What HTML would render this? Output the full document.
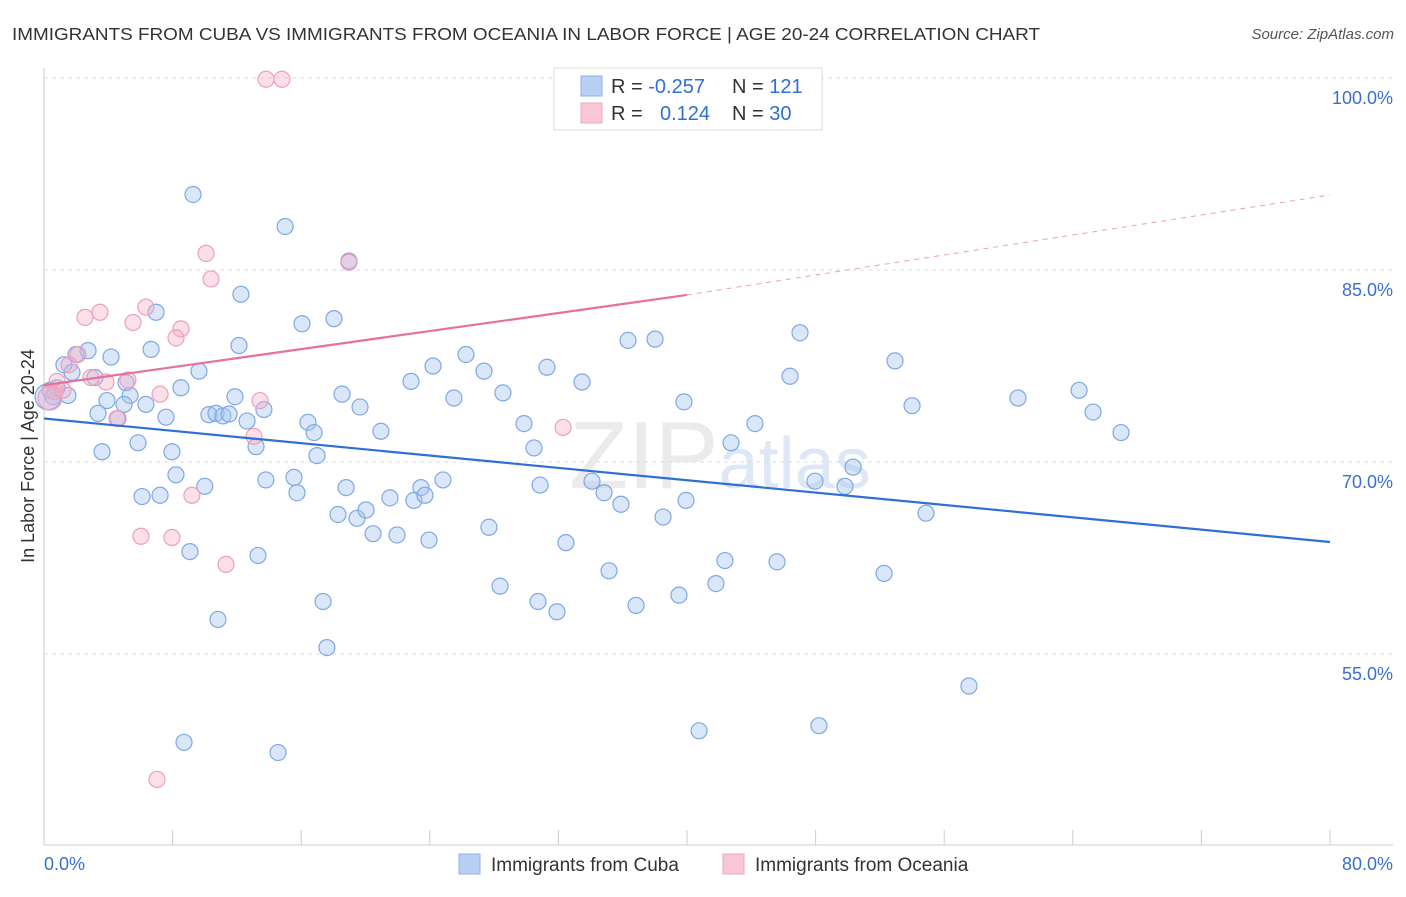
<!DOCTYPE html>
<html><head><meta charset="utf-8"><style>
body{margin:0;background:#fff;font-family:"Liberation Sans",sans-serif;}
svg text{font-family:"Liberation Sans",sans-serif;}
</style></head><body>
<svg id="chart" width="1406" height="892">
<text x="12" y="40" font-size="17.5" fill="#333" textLength="1028" lengthAdjust="spacingAndGlyphs">IMMIGRANTS FROM CUBA VS IMMIGRANTS FROM OCEANIA IN LABOR FORCE | AGE 20-24 CORRELATION CHART</text>
<text x="1394" y="39" font-size="15" fill="#555" font-style="italic" text-anchor="end">Source: ZipAtlas.com</text>
<text x="720" y="488" font-size="96" fill="#ebebeb" text-anchor="middle" font-family="Liberation Serif">ZIP<tspan fill="#dde7f5" font-family="Liberation Sans" font-size="72">atlas</tspan></text>
<g id="grid"></g><g id="axes"></g><g id="pts"></g><g id="lines"></g>
<text transform="translate(34,456) rotate(-90)" font-size="18" fill="#333" text-anchor="middle">In Labor Force | Age 20-24</text>
<g>
<rect x="554" y="68" width="268" height="62" fill="#fff" stroke="#ddd"/>
<rect x="581" y="76" width="21" height="20" fill="#b8d0f3" stroke="#8fb2e8"/>
<rect x="581" y="103" width="21" height="20" fill="#f8c6d6" stroke="#eea8bf"/>
<text x="611" y="93" font-size="20" fill="#333">R = <tspan fill="#2f6fd6">-0.257</tspan></text>
<text x="732" y="93" font-size="20" fill="#333">N = <tspan fill="#2f6fd6">121</tspan></text>
<text x="611" y="120" font-size="20" fill="#333">R = <tspan fill="#2f6fd6" x="660">0.124</tspan></text>
<text x="732" y="120" font-size="20" fill="#333">N = <tspan fill="#2f6fd6">30</tspan></text>
</g>
<g>
<rect x="459" y="854" width="21" height="20" fill="#b8d0f3" stroke="#8fb2e8"/>
<text x="491" y="871" font-size="19" fill="#333">Immigrants from Cuba</text>
<rect x="723" y="854" width="21" height="20" fill="#f8c6d6" stroke="#eea8bf"/>
<text x="755" y="871" font-size="19" fill="#333">Immigrants from Oceania</text>
</g>
</svg>
<script>
const xTicks=[0,10,20,30,40,50,60,70,80];
const yTicks=[55,70,85,100];
const yTickLabels=["55.0%","70.0%","85.0%","100.0%"];
const cubaX=[9.27,15.0,18.97,12.25,6.97,16.05,18.04,12.13,6.66,4.17,2.74,1.99,1.24,1.74,3.17,5.1,1.49,0.37,0.81,0.56,5.35,3.92,4.98,6.34,3.36,7.59,4.6,8.52,9.64,10.26,10.7,11.13,11.51,11.88,13.68,12.63,13.19,5.85,3.61,7.96,8.21,10.0,7.22,6.1,13.8,15.55,15.74,16.42,16.8,16.98,18.54,19.66,20.96,18.79,18.29,19.47,20.03,20.47,21.52,21.96,23.01,23.45,23.7,23.95,24.82,22.83,24.2,25.5,26.25,27.37,28.55,29.86,30.48,31.29,33.47,30.86,27.68,28.37,30.73,31.91,32.47,34.09,34.84,35.89,36.33,38.01,39.81,39.94,38.51,35.15,36.83,39.5,41.8,42.74,42.36,44.23,46.41,47.03,47.96,49.83,50.33,52.94,54.0,54.87,52.26,45.6,40.75,48.21,57.54,60.59,64.39,65.26,67.0,9.08,13.31,10.82,17.36,17.6,8.71,14.56,0.25];
const cubaY=[90.9,88.4,85.7,83.1,81.7,80.8,81.2,79.1,78.8,78.2,78.7,78.4,77.6,77.0,76.6,76.2,75.2,75.6,75.8,75.1,75.2,74.8,74.5,74.5,73.8,73.5,73.4,75.8,77.1,73.7,73.8,73.6,73.75,75.1,74.1,73.2,71.2,71.5,70.8,70.8,69.0,68.1,67.4,67.3,68.6,68.8,67.6,73.1,72.3,70.5,75.3,74.3,72.4,68.0,65.9,65.6,66.25,64.4,67.2,64.3,67.0,68.0,67.4,63.9,68.6,76.3,77.5,75.0,78.4,77.1,75.4,73.0,71.1,77.4,76.25,68.2,64.9,60.3,59.1,58.3,63.7,68.5,67.6,66.7,79.5,79.6,74.7,67.0,65.7,61.5,58.8,59.6,60.5,71.5,62.3,73.0,76.7,80.1,68.5,68.1,69.6,77.9,74.4,66.0,61.3,62.2,49.0,49.4,52.5,75.0,75.6,73.9,72.3,63.0,62.7,57.7,59.1,55.5,48.1,47.3,75.1];
const ocX=[13.81,14.8,18.97,10.08,10.39,3.48,2.55,6.34,5.54,8.52,8.21,2.11,1.56,0.81,0.68,2.92,3.86,5.22,7.22,4.54,13.44,13.06,9.2,6.03,7.96,11.32,7.03,32.29,0.37,1.18];
const ocY=[99.9,99.9,85.6,86.3,84.3,81.7,81.3,82.1,80.9,80.4,79.7,78.4,77.6,76.3,75.5,76.6,76.25,76.4,75.3,73.4,74.8,72.0,67.4,64.2,64.1,62.0,45.2,72.7,75.0,75.6];
const cubaTrend=[73.4,63.75];
const ocTrend=[76.0,83.05,90.86];
const NS="http://www.w3.org/2000/svg";
const X=v=>44+v*16.075, Y=v=>78+(100-v)*12.8;
function mk(t,a,p){const e=document.createElementNS(NS,t);for(const k in a)e.setAttribute(k,a[k]);p.appendChild(e);return e;}
const grid=document.getElementById('grid'),axes=document.getElementById('axes'),pts=document.getElementById('pts'),lines=document.getElementById('lines');
yTicks.forEach((t,i)=>{
 const l=mk('line',{x1:44,x2:1393,y1:Y(t),y2:Y(t),stroke:'#ddd','stroke-dasharray':'4,4'},grid);
 
 
 const tx=mk('text',{x:1393,y:Y(t)+26,'font-size':18,fill:'#3a6fd0','text-anchor':'end'},grid);
 tx.textContent=yTickLabels[i];
 
 
});
mk('line',{x1:44,x2:44,y1:68,y2:845,stroke:'#ccc'},axes);
mk('line',{x1:44,x2:1393,y1:845,y2:845,stroke:'#ccc'},axes);
for(let v=0;v<=80;v+=8){const t=mk('line',{x1:X(v),x2:X(v),y1:830,y2:845,stroke:'#ccc'},axes);
 
 }
const x0=mk('text',{x:44,y:870,'font-size':18,fill:'#3a6fd0'},axes);x0.textContent='0.0%';


const x1=mk('text',{x:1393,y:870,'font-size':18,fill:'#3a6fd0','text-anchor':'end'},axes);x1.textContent='80.0%';


cubaX.forEach((v,i)=>{const c=mk('circle',{cx:X(v),cy:Y(cubaY[i]),r:i==cubaX.length-1?13:8,fill:'rgba(160,196,240,0.4)',stroke:'#7ea8e6','stroke-width':1.2},pts);
 
 });
ocX.forEach((v,i)=>{const c=mk('circle',{cx:X(v),cy:Y(ocY[i]),r:i==ocX.length-2?12:8,fill:'rgba(245,175,200,0.4)',stroke:'#eda0b8','stroke-width':1.2},pts);
 
 });
const bl=mk('line',{x1:X(0),y1:Y(cubaTrend[0]),x2:X(80),y2:Y(cubaTrend[1]),stroke:'#2f6fd6','stroke-width':2.2},lines);


const pl=mk('line',{x1:X(0),y1:Y(ocTrend[0]),x2:X(40),y2:Y(ocTrend[1]),stroke:'#e8709a','stroke-width':2.2},lines);


const pd=mk('line',{x1:X(40),y1:Y(ocTrend[1]),x2:X(80),y2:Y(ocTrend[2]),stroke:'#e8a0b8','stroke-width':1,'stroke-dasharray':'5,5'},lines);


</script>
</body></html>
